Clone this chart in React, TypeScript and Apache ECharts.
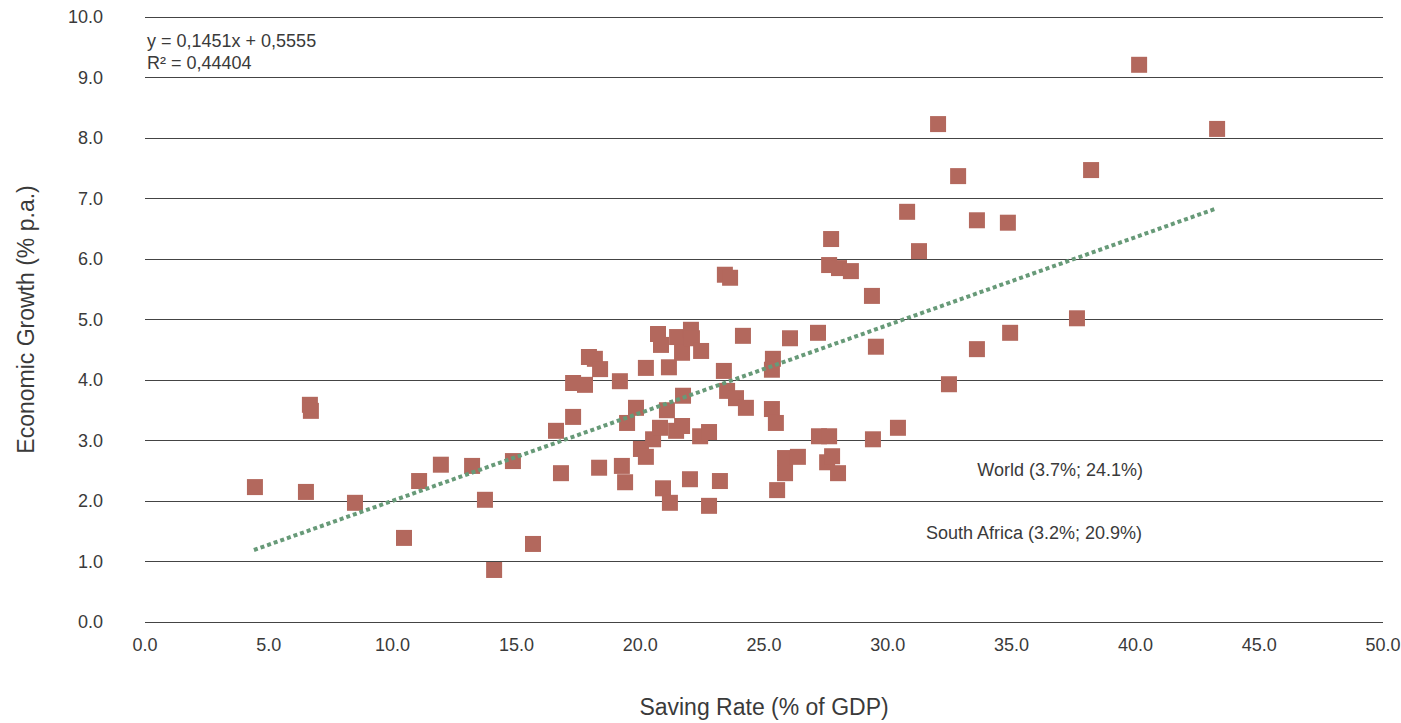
import React, { useEffect, useRef } from "react";
import * as echarts from "echarts";

const savingRate = [
  4.44, 6.66, 6.7, 6.5, 8.48, 10.46, 11.07, 11.95, 13.21, 13.73, 14.1, 14.86, 15.67, 16.6, 16.8,
  17.29, 17.29, 17.77, 17.93, 18.17, 18.38, 18.34, 19.18, 19.26, 19.39, 19.47, 19.83, 20.23, 20.03,
  20.23, 20.52, 20.72, 20.84, 20.8, 20.92, 21.08, 21.16, 21.2, 21.45, 21.49, 21.69, 21.69, 21.73,
  22.05, 22.09, 22.01, 22.46, 22.42, 22.78, 22.78, 23.22, 23.38, 23.42, 23.63, 23.51, 23.87, 24.15,
  24.27, 25.32, 25.36, 25.32, 25.48, 25.53, 25.85, 25.85, 26.05, 26.37, 27.18, 27.22, 27.63, 27.55,
  27.71, 27.63, 27.75, 27.99, 28.03, 28.51, 29.36, 29.4, 29.52, 30.41, 30.78, 31.26, 32.03, 32.47,
  32.84, 33.6, 33.6, 34.85, 34.94, 37.64, 38.21, 40.15, 43.3,
];
const growth = [
  2.23, 3.59, 3.49, 2.15, 1.97, 1.39, 2.33, 2.6, 2.58, 2.02, 0.86, 2.66, 1.29, 3.16, 2.46,
  3.95, 3.39, 3.92, 4.38, 4.35, 4.18, 2.55, 3.98, 2.58, 2.31, 3.29, 3.54, 4.2, 2.86,
  2.73, 3.02, 4.76, 4.58, 3.21, 2.21, 3.5, 4.21, 1.97, 3.16, 4.71, 3.24, 4.45, 3.74,
  4.83, 4.69, 2.36, 4.48, 3.07, 3.14, 1.92, 2.33, 4.15, 5.74, 5.69, 3.82, 3.7, 4.73,
  3.54, 3.52, 4.35, 4.17, 3.29, 2.18, 2.71, 2.46, 4.69, 2.73, 4.78, 3.07, 3.07, 2.64,
  6.33, 5.9, 2.74, 2.46, 5.85, 5.8, 5.39, 3.02, 4.55, 3.21, 6.78, 6.13, 8.23, 3.93,
  7.37, 6.64, 4.51, 6.6, 4.78, 5.02, 7.47, 9.21, 8.15,
];
const trendX = [4.4, 43.3];
const trendY = [1.19, 6.84];
const xTicks = ["0.0", "5.0", "10.0", "15.0", "20.0", "25.0", "30.0", "35.0", "40.0", "45.0", "50.0"];
const equationLines = ["y = 0,1451x + 0,5555", "R² = 0,44404"];
const noteWorld = "World (3.7%; 24.1%)";
const noteSA = "South Africa (3.2%; 20.9%)";
const xTitle = "Saving Rate (% of GDP)";
const yTitle = "Economic Growth (% p.a.)";

const FONT = "'Liberation Sans', Arial, sans-serif";
const TEXT = "#3a3a3a";

export default function App() {
  const ref = useRef<HTMLDivElement>(null);
  useEffect(() => {
    document.body.style.margin = "0";
    const chart = echarts.init(ref.current!, null, { renderer: "svg" });
    const points = savingRate.map((x, i) => [x, growth[i]]);
    const trend = trendX.map((x, i) => [x, trendY[i]]);
    chart.setOption({
      animation: false,
      textStyle: { fontFamily: FONT },
      grid: {
        left: 145,
        right: 18,
        top: 17,
        bottom: 101,
        containLabel: false,
        outerBoundsMode: "none",
      },
      xAxis: {
        type: "value",
        min: 0,
        max: 50,
        interval: 5,
        name: xTitle,
        nameLocation: "middle",
        nameGap: 73,
        nameTextStyle: { fontSize: 23, color: TEXT, fontFamily: FONT },
        axisLine: { show: false },
        axisTick: { show: false },
        splitLine: { show: false },
        axisLabel: {
          fontSize: 18,
          color: TEXT,
          margin: 14,
          fontFamily: FONT,
          formatter: (v: number) => xTicks[Math.round(v / 5)] ?? v.toFixed(1),
        },
      },
      yAxis: {
        type: "value",
        min: 0,
        max: 10,
        interval: 1,
        name: yTitle,
        nameLocation: "middle",
        nameGap: 108,
        nameTextStyle: { fontSize: 23, color: TEXT, fontFamily: FONT },
        axisLine: { show: false },
        axisTick: { show: false },
        splitLine: { show: true, lineStyle: { color: "#444444", width: 1 } },
        axisLabel: {
          fontSize: 18,
          color: TEXT,
          margin: 42,
          fontFamily: FONT,
          formatter: (v: number) => v.toFixed(1),
        },
      },
      series: [
        {
          type: "scatter",
          data: points,
          symbol: "rect",
          symbolSize: 16,
          itemStyle: { color: "#b3685d", opacity: 1 },
          z: 3,
        },
        {
          type: "line",
          data: trend,
          symbol: "none",
          lineStyle: { color: "#679a78", width: 4, type: [4, 3], cap: "butt" },
          z: 4,
        },
      ],
      graphic: [
        {
          type: "text",
          left: 147,
          top: 30,
          style: {
            text: equationLines.join("\n"),
            fontSize: 18,
            lineHeight: 22,
            fill: TEXT,
            fontFamily: FONT,
          },
        },
        {
          type: "text",
          right: 1401 - 1143,
          top: 461,
          style: { text: noteWorld, fontSize: 18, fill: TEXT, fontFamily: FONT },
        },
        {
          type: "text",
          right: 1401 - 1143,
          top: 524,
          style: { text: noteSA, fontSize: 18, fill: TEXT, fontFamily: FONT },
        },
      ],
    });
    return () => chart.dispose();
  }, []);
  return <div ref={ref} style={{ width: 1401, height: 723 }} />;
}
